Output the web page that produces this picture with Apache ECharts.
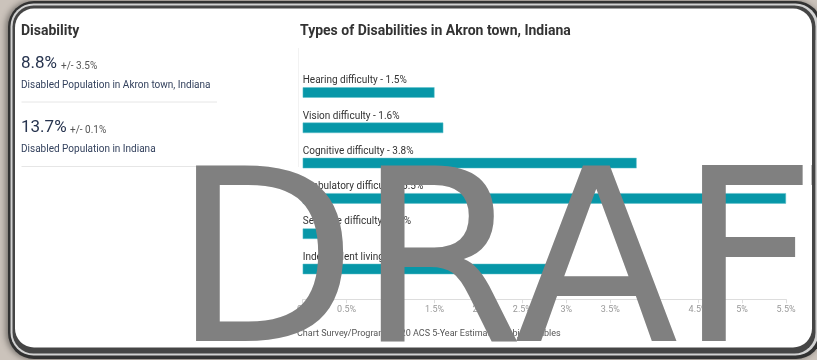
<!DOCTYPE html>
<html>
<head>
<meta charset="utf-8">
<script src="https://cdn.jsdelivr.net/npm/echarts@6/dist/echarts.min.js"></script>
<style>
  html, body { margin: 0; padding: 0; background: #cbc3bb; }
  #chart { width: 817px; height: 360px; }
</style>
</head>
<body>
<div id="chart"></div>
<script>
// Disability types, Akron town, Indiana (percent of population)
const categories = [
  'Hearing difficulty',
  'Vision difficulty',
  'Cognitive difficulty',
  'Ambulatory difficulty',
  'Self-care difficulty',
  'Independent living difficulty'
];
const values = [1.5, 1.6, 3.8, 5.5, 0.4, 2.9];

// Axis range for the percentage scale
const axisMin = 0;
const axisMax = 5.5;
const axisStep = 0.5;

// Summary figures shown in the side panel
const summaryValues = ['8.8%', '13.7%'];
const summaryMargins = ['+/- 3.5%', '+/- 0.1%'];
const summaryCaptions = [
  'Disabled Population in Akron town, Indiana',
  'Disabled Population in Indiana'
];

const panelTitle = 'Disability';
const chartTitle = 'Types of Disabilities in Akron town, Indiana';
const sourceNote = 'Chart Survey/Program: 2020 ACS 5-Year Estimates Subject Tables';
const watermark = 'DRAFT';

const FONT = 'Roboto, "Noto Sans", sans-serif';

const chart = echarts.init(document.getElementById('chart'), null, { renderer: 'canvas' });

// Rounded card frame
const frame = [
  { type: 'rect', z: -10, shape: { x: 8, y: 1, width: 814, height: 358, r: 26 },
    style: { fill: '#323232', shadowBlur: 6, shadowColor: 'rgba(0,0,0,0.45)', shadowOffsetX: -2 } },
  { type: 'rect', z: -9, shape: { x: 10.5, y: 3.5, width: 808, height: 352, r: 23 },
    style: { fill: '#d2d2d2' } },
  { type: 'rect', z: -8, shape: { x: 12.5, y: 5.5, width: 803, height: 348, r: 21 },
    style: { fill: '#454545' } },
  { type: 'rect', z: -7, shape: { x: 15, y: 8.5, width: 797, height: 339, r: 19 },
    style: { fill: '#ffffff' } },
  // right-hand border bands stay above the watermark
  { type: 'rect', z: 110, shape: { x: 812, y: 40, width: 3.5, height: 280 }, style: { fill: '#454545' } },
  { type: 'rect', z: 110, shape: { x: 815.5, y: 40, width: 2, height: 280 }, style: { fill: '#d2d2d2' } }
];

// Side panel: headline figures with captions and separators
const panel = [
  { type: 'text', x: 21, y: 31, style: { text: panelTitle, font: 'bold 14px ' + FONT, fill: '#333', verticalAlign: 'middle' } }
];
const rowTops = [63.5, 128];
summaryValues.forEach((v, i) => {
  const y = rowTops[i];
  panel.push({ type: 'text', x: 21, y: y, style: { text: v, font: '17px ' + FONT, fill: '#27344f', verticalAlign: 'middle' } });
  panel.push({ type: 'text', x: i === 0 ? 61 : 70, y: y + 2.5, style: { text: summaryMargins[i], font: '10px ' + FONT, fill: '#555', verticalAlign: 'middle' } });
  panel.push({ type: 'text', x: 21, y: y + 21.5, style: { text: summaryCaptions[i], font: '10px ' + FONT, fill: '#34425e', verticalAlign: 'middle' } });
  panel.push({ type: 'line', shape: { x1: 21.5, y1: y + 38.5, x2: 217, y2: y + 38.5 }, style: { stroke: '#e6e6e6', lineWidth: 1 } });
});
panel.push({ type: 'line', shape: { x1: 298.5, y1: 48, x2: 298.5, y2: 167 }, style: { stroke: '#f2f2f2', lineWidth: 1 } });

const texts = [
  { type: 'text', x: 300, y: 31, style: { text: chartTitle, font: 'bold 14px ' + FONT, fill: '#333', verticalAlign: 'middle' } },
  { type: 'text', x: 297, y: 334, style: { text: sourceNote, font: '9px ' + FONT, fill: '#555', verticalAlign: 'middle' } },
  { type: 'text', z: 100, x: 172.5, y: 279, style: { text: watermark, font: '240px "DejaVu Sans"', fill: '#808080', verticalAlign: 'middle' } }
];

chart.setOption({
  backgroundColor: 'transparent',
  animation: false,
  textStyle: { fontFamily: FONT },
  grid: { left: 302.7, right: 31, top: 74.85, height: 211.8, containLabel: false },
  xAxis: {
    type: 'value',
    min: axisMin,
    max: axisMax,
    interval: axisStep,
    offset: 12.6,
    axisLine: { show: true, lineStyle: { color: '#dddddd', width: 1 } },
    axisTick: { show: true, length: 4, lineStyle: { color: '#dddddd' } },
    splitLine: { show: false },
    axisLabel: { color: '#999', fontSize: 9, margin: 6, formatter: v => v + '%' }
  },
  yAxis: {
    type: 'category',
    data: categories,
    inverse: true,
    show: false
  },
  series: [{
    type: 'bar',
    data: values,
    barWidth: 10.5,
    itemStyle: { color: '#0797a8', borderColor: '#5fc0cb', borderWidth: 0.5 },
    label: {
      show: true,
      position: [0, -6.5],
      align: 'left',
      verticalAlign: 'middle',
      fontSize: 10,
      color: '#333',
      formatter: p => p.name + ' - ' + p.value + '%'
    }
  }],
  graphic: { elements: frame.concat(panel, texts) }
});
</script>
</body>
</html>
